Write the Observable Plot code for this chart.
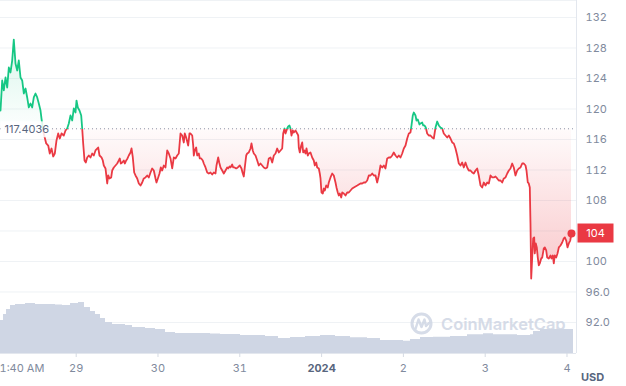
<!DOCTYPE html>
<html><head><meta charset="utf-8">
<script src="https://cdn.jsdelivr.net/npm/d3@7"></script>
<script src="https://cdn.jsdelivr.net/npm/@observablehq/plot@0.6"></script>
<style>
body{margin:0;background:#fff;}
#wrap{position:relative;width:626px;height:386px;overflow:hidden;}
#wrap svg{position:absolute;left:0;top:0;}
</style></head><body><div id="wrap"></div>
<script>
// Times are hours counted from 2023-12-28 00:00 (UTC used as plain clock time)
const startDate = Date.UTC(2023, 11, 28);
const hours = [
1.79,2.29,2.76,3.26,3.76,4.23,4.72,5.22,5.69,6.19,
6.69,7.16,7.66,8.16,8.63,9.13,9.62,10.09,10.59,11.09,
11.56,12.06,12.56,13.03,13.53,13.82,14.41,15.20,15.79,16.25,
16.75,17.25,17.72,18.22,18.72,19.19,19.69,20.36,20.86,21.36,
21.83,22.33,22.83,23.30,23.80,24.09,24.47,24.97,25.47,25.76,
26.05,26.44,26.82,27.23,27.70,28.20,28.69,29.16,29.66,30.45,
30.84,31.42,31.80,32.10,32.60,33.10,33.39,33.77,34.27,34.56,
35.03,35.53,36.03,36.50,36.79,37.09,37.50,37.97,38.26,38.67,
39.05,39.43,39.93,40.23,40.61,41.02,41.40,41.90,42.37,42.87,
43.37,43.83,44.33,44.83,45.30,45.80,46.30,46.77,47.27,47.56,
48.06,48.44,48.82,49.23,49.70,50.20,50.70,51.17,51.67,52.17,
52.64,53.14,53.63,54.10,54.60,55.10,55.57,55.86,56.27,56.86,
57.24,57.54,58.04,58.33,58.50,58.80,59.21,59.50,59.97,60.26,
60.68,61.14,61.44,61.94,62.44,62.91,63.40,63.90,64.37,64.87,
65.16,65.66,65.96,66.34,66.84,67.31,67.81,68.30,68.60,68.98,
69.27,69.77,70.06,70.45,70.94,71.41,72.00,72.50,72.79,73.17,
73.47,73.88,74.17,74.64,75.14,75.43,75.81,76.11,76.61,77.11,
77.58,78.07,78.57,79.04,79.54,80.04,80.51,81.01,81.51,81.98,
82.48,82.97,83.44,83.94,84.44,84.73,85.12,85.41,85.91,86.20,
86.58,86.88,87.17,87.55,87.84,88.34,88.84,89.14,89.31,89.61,
90.02,90.31,90.60,90.98,91.28,91.57,91.95,92.25,92.74,93.24,
93.71,94.01,94.42,94.71,95.18,95.47,95.68,95.97,96.35,96.65,
96.94,97.35,97.82,98.11,98.61,99.11,99.58,100.08,100.37,100.75,
101.05,101.34,101.75,102.05,102.51,103.01,103.51,103.98,104.48,104.98,
105.45,105.95,106.45,106.92,107.41,107.91,108.38,108.88,109.38,109.85,
110.35,110.85,111.32,111.82,112.31,112.78,113.28,113.78,114.25,114.75,
115.25,115.72,116.22,116.71,117.18,117.68,118.18,118.65,119.15,119.65,
120.12,120.62,121.12,121.59,122.08,122.38,122.76,123.05,123.55,123.84,
124.23,124.72,125.02,125.52,125.81,126.19,126.57,126.98,127.45,127.95,
128.45,128.92,129.42,129.92,130.39,130.89,131.39,131.85,132.35,132.85,
133.32,133.82,134.32,134.79,135.29,135.79,136.26,136.75,137.25,137.72,
138.22,138.72,139.19,139.69,140.19,140.66,141.16,141.65,142.12,142.62,
143.12,143.59,144.09,144.59,145.06,145.56,146.06,146.52,147.02,147.52,
147.99,148.49,148.99,149.46,149.96,150.46,150.93,151.42,151.92,152.39,
152.89,153.39,153.86,154.36,154.86,155.33,155.83,156.12,156.50,156.79,
157.09,157.29,157.50,157.79,158.08,158.38,158.55,158.85,159.14,159.43,
159.73,160.02,160.43,160.73,161.19,161.49,161.90,162.19,162.66,163.16,
163.45,163.84,164.13,164.42,164.83,165.21,165.60,166.09,166.59,167.06,
167.36,167.77,168.15,168.53,168.94,169.32
];
const prices = [
119.80,123.74,122.43,124.13,122.82,125.44,124.79,126.36,129.11,125.97,
125.05,126.36,124.13,123.74,122.03,122.69,121.51,120.20,120.72,120.20,
121.51,122.03,121.51,120.72,119.80,118.75,116.92,115.48,115.21,114.16,
114.82,113.77,114.16,115.87,116.79,116.13,116.79,116.52,117.18,117.44,
118.10,119.15,118.49,120.07,119.54,121.11,120.20,119.80,119.15,117.44,
115.48,113.25,112.98,113.64,113.90,113.64,114.16,113.90,114.56,114.95,
113.90,113.64,113.25,112.59,112.20,110.23,111.28,110.89,111.02,111.93,
112.33,112.59,112.85,113.25,113.51,112.85,112.98,113.25,112.85,113.25,
113.51,113.90,114.30,114.82,113.64,111.67,111.28,110.89,110.23,109.97,
110.36,110.89,111.02,111.28,111.02,111.67,112.20,111.93,110.89,110.36,
111.02,111.54,112.33,111.93,112.59,112.33,114.56,114.16,113.51,112.20,
113.64,113.51,113.90,114.16,116.79,116.52,115.61,116.79,116.26,115.21,
116.79,116.79,116.52,115.21,113.90,114.56,114.95,113.90,114.16,113.51,
113.51,113.25,112.85,112.33,111.67,111.54,111.67,111.41,111.67,111.54,
112.59,113.64,112.98,112.33,111.93,111.54,111.93,112.33,112.20,112.46,
112.33,112.72,112.33,112.33,112.20,112.33,112.59,112.20,111.67,111.15,
112.33,113.90,114.16,114.30,114.82,115.48,114.56,114.16,113.90,113.25,
112.59,112.85,112.59,112.33,112.20,112.33,113.51,113.64,112.98,113.90,
114.16,114.82,114.30,114.56,114.82,116.79,117.44,116.79,117.44,117.71,
117.84,117.44,116.52,117.18,116.92,117.18,116.79,116.52,114.95,114.30,
115.21,115.61,114.30,114.56,114.16,114.82,113.90,114.16,114.30,113.64,
113.25,112.59,112.98,112.33,112.20,111.54,110.89,109.05,108.92,109.57,
109.31,109.97,109.71,110.36,111.02,111.54,111.28,110.36,109.71,109.05,
108.66,108.92,108.39,109.05,108.92,108.66,109.05,109.05,109.31,109.57,
109.71,109.84,109.97,110.10,110.23,110.23,110.36,110.36,110.62,111.28,
111.28,111.54,111.28,111.28,110.36,111.28,112.59,112.33,112.59,112.20,
113.51,113.64,113.64,113.90,114.30,113.90,113.64,113.90,113.64,114.16,
114.82,115.21,116.13,116.79,116.92,117.84,119.15,119.54,119.15,118.49,
118.62,117.97,118.10,118.23,117.84,117.84,117.57,116.79,116.52,116.52,
116.26,116.13,117.57,118.36,117.84,117.57,117.44,116.79,116.52,116.26,
116.52,116.13,115.61,115.48,114.82,113.90,112.85,112.59,112.98,112.33,
112.98,112.33,111.93,111.93,111.67,111.54,111.93,112.20,111.28,109.97,
109.71,110.36,109.97,110.36,110.23,111.28,111.02,111.02,111.15,110.89,
110.62,110.62,110.36,110.89,111.02,111.54,111.93,112.20,112.85,112.33,
111.28,111.93,112.20,112.33,112.85,112.85,112.59,111.93,110.36,110.23,
109.71,104.98,97.77,100.52,103.02,103.15,101.05,102.36,101.84,100.52,
99.48,99.74,100.39,100.52,101.71,101.84,101.44,100.52,100.39,100.79,
100.39,100.79,99.74,100.79,100.52,101.05,101.84,102.10,102.49,103.02,
103.15,102.75,101.84,102.36,102.75,103.67
];
// 24h volume (millions USD, read from the grey area)
const volHours = [1.79,2.67,3.55,4.72,6.19,9.13,12.06,14.99,17.93,19.98,22.33,24.68,25.56,26.43,28.20,29.66,31.13,32.60,34.65,38.47,40.52,44.33,47.27,50.20,53.14,63.40,66.34,72.21,76.61,79.54,83.35,86.88,91.28,95.68,100.08,104.48,109.47,113.28,120.03,122.08,125.02,128.83,133.82,138.81,143.50,146.44,153.48,157.29,158.17,160.23,169.91];
const volumes  = [132,156,176,192,196,200,196,196,194,192,200,204,204,184,168,156,140,124,116,112,104,100,96,84,80,78,76,72,72,68,60,64,68,72,68,63,60,52,49,56,64,65,68,75,79,75,72,75,88,96,96];

const openPrice = 117.4036;
const yTicks = [92, 96, 100, 104, 108, 112, 116, 120, 124, 128, 132];
const dayTickHours = [24, 48, 72, 96, 120, 144, 168];
const dayTickLabels = ["29", "30", "31", "2024", "2", "3", "4"];
const firstTickLabel = "1:40 AM";
const xDomainHours = [1.79, 170.79];
const yDomain = [87.93, 134.23];
const volDomain = [0, 280];
const currency = "USD";
const watermark = "CoinMarketCap";

const green = "#16c784", red = "#ea3943", grey = "#808a9d", dark = "#58667e";
const toDate = h => new Date(startDate + h * 3600e3);
const data = hours.map((h, i) => ({t: toDate(h), p: prices[i]}));
const vdata = volHours.map((h, i) => ({t: toDate(h), v: volumes[i]}));
const last = data[data.length - 1];
const xDomain = xDomainHours.map(toDate);
const dayTicks = dayTickHours.map(toDate);
const labelOf = new Map(dayTicks.map((d, i) => [+d, dayTickLabels[i]]));
const boldIdx = dayTickLabels.indexOf("2024");
// axis labels hidden under the last-price tag are not drawn
const yLabelTicks = yTicks.filter(t => Math.abs(t - last.p) > 1.5);

const common = {width: 626, height: 386, marginLeft: 0, marginRight: 50, marginBottom: 33};

const main = Plot.plot({
  ...common,
  marginTop: 0,
  style: {background: "white", fontFamily: "Inter, sans-serif", fontSize: "11px"},
  x: {type: "utc", domain: xDomain},
  y: {domain: yDomain},
  marks: [
    Plot.ruleY(yTicks, {stroke: "#eff2f5"}),
    Plot.ruleY([yDomain[1]], {stroke: "#eff2f5"}),
    Plot.areaY(data, {x: "t", y1: () => openPrice, y2: "p", fill: "url(#cmcFill)"}),
    Plot.ruleY([openPrice], {stroke: "#8a93a6", strokeDasharray: "1 3"}),
    Plot.line(data, {x: "t", y: "p", stroke: "url(#cmcLine)", strokeWidth: 1.8, strokeLinejoin: "round"}),
    Plot.ruleY([yDomain[0]], {stroke: "#e3e7ee"}),
    Plot.ruleX([xDomain[1]], {stroke: "#e3e7ee"}),
    Plot.axisY(yLabelTicks, {anchor: "right", label: null, tickSize: 0, tickPadding: 9, fill: grey,
      tickFormat: d => d >= 100 ? String(d) : d.toFixed(1)}),
    Plot.axisX(dayTicks.filter((d, i) => i !== boldIdx), {label: null, tickSize: 4, tickPadding: 7, stroke: "#d5dae3", fill: grey,
      tickFormat: d => labelOf.get(+d)}),
    Plot.axisX([dayTicks[boldIdx]], {label: null, tickSize: 4, tickPadding: 7, stroke: "#d5dae3", fill: dark, fontWeight: "bold",
      tickFormat: d => labelOf.get(+d)}),
    Plot.axisX([xDomain[0]], {label: null, tickSize: 0, tickPadding: 11, fill: grey, textAnchor: "start", dx: -1,
      tickFormat: () => firstTickLabel}),
    Plot.text([currency], {frameAnchor: "bottom-right", dx: 16, dy: 24, textAnchor: "middle", lineAnchor: "middle",
      fill: dark, fontWeight: "bold", fontSize: 11}),
    Plot.text([openPrice], {y: d => d, frameAnchor: "left", dx: 4, dy: 1, textAnchor: "start",
      text: d => d.toFixed(4), fill: dark, fontSize: 11}),
    Plot.dot([last], {x: "t", y: "p", r: 4, fill: red}),
    Plot.text([last], {y: "p", frameAnchor: "right", dx: 19, textAnchor: "middle",
      text: d => d3.format(".0f")(d.p), fill: "white", fontSize: 11})
  ]
});

const vol = Plot.plot({
  ...common,
  marginTop: 283,
  style: {background: "transparent", pointerEvents: "none"},
  x: {type: "utc", domain: xDomain, axis: null},
  y: {domain: volDomain, axis: null},
  marks: [
    Plot.areaY(vdata, {x: "t", y: "v", fill: "#cfd6e4", curve: "step-after"})
  ]
});

const wrap = document.getElementById("wrap");
wrap.append(main, vol);

// gradients keyed to the y scale
const ys = main.scale("y");
const yTopPx = ys.apply(yDomain[1]), yBotPx = ys.apply(yDomain[0]);
const off = v => (ys.apply(v) - yTopPx) / (yBotPx - yTopPx);
const defs = d3.select(main).insert("defs", ":first-child");
function grad(id, stops) {
  const g = defs.append("linearGradient").attr("id", id).attr("gradientUnits", "userSpaceOnUse")
    .attr("x1", 0).attr("x2", 0).attr("y1", yTopPx).attr("y2", yBotPx);
  for (const [o, c, a] of stops) g.append("stop").attr("offset", o).attr("stop-color", c).attr("stop-opacity", a);
}
grad("cmcLine", [[off(openPrice), green, 1], [off(openPrice), red, 1]]);
grad("cmcFill", [[off(d3.max(prices)), green, 0.16], [off(openPrice), green, 0.01],
                 [off(openPrice), red, 0.02], [off(d3.min(prices)), red, 0.28]]);

// boxes behind labels: use the text's own transform so the box sits where the text is
function boxBehind(textEl, make) {
  const bb = textEl.getBBox();
  const r = d3.select(textEl.parentNode).insert("rect", () => textEl);
  const tr = textEl.getAttribute("transform");
  if (tr) r.attr("transform", tr);
  make(r, bb);
}
const texts = [...main.querySelectorAll("text")];
const lbl = texts.find(t => t.textContent === openPrice.toFixed(4));
if (lbl) boxBehind(lbl, (r, bb) => r
  .attr("x", bb.x - 4).attr("y", bb.y - 1).attr("width", bb.width + 6).attr("height", bb.height + 2)
  .attr("fill", "white").attr("fill-opacity", 0.85));
const tag = texts.filter(t => t.textContent === d3.format(".0f")(last.p)).pop();
if (tag) boxBehind(tag, (r, bb) => {
  const cx = bb.x + bb.width / 2, cy = bb.y + bb.height / 2;
  r.attr("x", cx - 18).attr("y", cy - 9.5).attr("width", 36).attr("height", 19).attr("fill", red);
});

// watermark
const wm = d3.select(vol).append("g").attr("opacity", 0.85);
wm.append("circle").attr("cx", 421.5).attr("cy", 323.5).attr("r", 9.5)
  .attr("fill", "none").attr("stroke", "#cfd6e4").attr("stroke-width", 3);
wm.append("path").attr("d", "M415.5,329 L418.5,319.5 L421.5,327 L424.5,319.5 L426,326 L429,323")
  .attr("fill", "none").attr("stroke", "#cfd6e4").attr("stroke-width", 2.4).attr("stroke-linejoin", "round").attr("stroke-linecap", "round");
wm.append("text").attr("x", 441).attr("y", 330).attr("text-anchor", "start").attr("font-family", "Inter, sans-serif")
  .attr("font-size", 16.5).attr("font-weight", 600).attr("fill", "#cfd6e4").text(watermark);
</script></body></html>
